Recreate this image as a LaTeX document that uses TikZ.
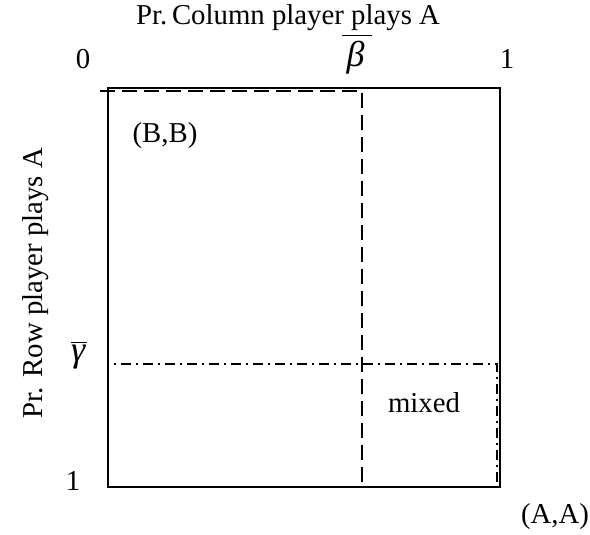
\documentclass[tikz,border=0pt]{standalone}
\usepackage{fontspec}
\setmainfont{Liberation Serif}
\usepackage{tikz}
\usetikzlibrary{calc,positioning}

\begin{document}
\begin{tikzpicture}[x=0.5pt,y=-0.5pt]
          \tikzstyle{lbl} = [inner sep=0pt, anchor=base, font=\fontsize{14.4}{17}\selectfont]
          \tikzstyle{glbl} = [inner sep=0pt, anchor=base, font=\fontsize{18}{21}\selectfont]
          \tikzstyle{eqline} = [line width=1.4pt, dash pattern=on 7.5pt off 3.5pt]
          \tikzstyle{mixline} = [line width=1.4pt, dash pattern=on 5pt off 2.5pt on 1pt off 2.5pt]
          \useasboundingbox (0,0) rectangle (590,535);

            % unit square
            \coordinate (tl) at (108,88);
            \coordinate (br) at (500,487);
            \draw[line width=0.75pt] (tl) rectangle (br);

            % (B,B) region
            \coordinate (b0) at (100,91);
            \coordinate (b1) at (362,91);
            \coordinate (b2) at (362,487);
            \coordinate (b3) at (490,487);
            \draw[eqline] (b0) -- (b1) -- (b2) -- (b3);

            % mixed region
            \coordinate (g0) at (108,91);
            \coordinate (g1) at (108,364);
            \coordinate (g2) at (497,364);
            \coordinate (g3) at (497,487);
            \draw[mixline] (g0) -- (g1) -- (g2) -- (g3);

            \node[lbl] (coltitle) at (288,25) {Pr.\,Column player plays A};
            \node[lbl, rotate=90, anchor=center] (rowtitle) at (36,283) {Pr. Row player plays A};

            \node[lbl] (zero) at (83,69) {0};
            \node[lbl] (colone) at (507,69) {1};
            \node[glbl] (beta) at (357,67) {$\overline{\mbox{\hspace{0.12em}\itshape β\hspace{0.2em}\rule{0pt}{0.8em}}}$};
            \node[glbl] (gamma) at (79,362) {$\overline{\mbox{\itshape γ\hspace{0.05em}}}$};
            \node[lbl] (rowone) at (73,490) {1};

            \node[lbl] (bb) at (165,143) {(B,B)};
            \node[lbl] (mixed) at (424,412) {mixed};
            \node[lbl] (aa) at (555,523) {(A,A)};
        \end{tikzpicture}
\end{document}
